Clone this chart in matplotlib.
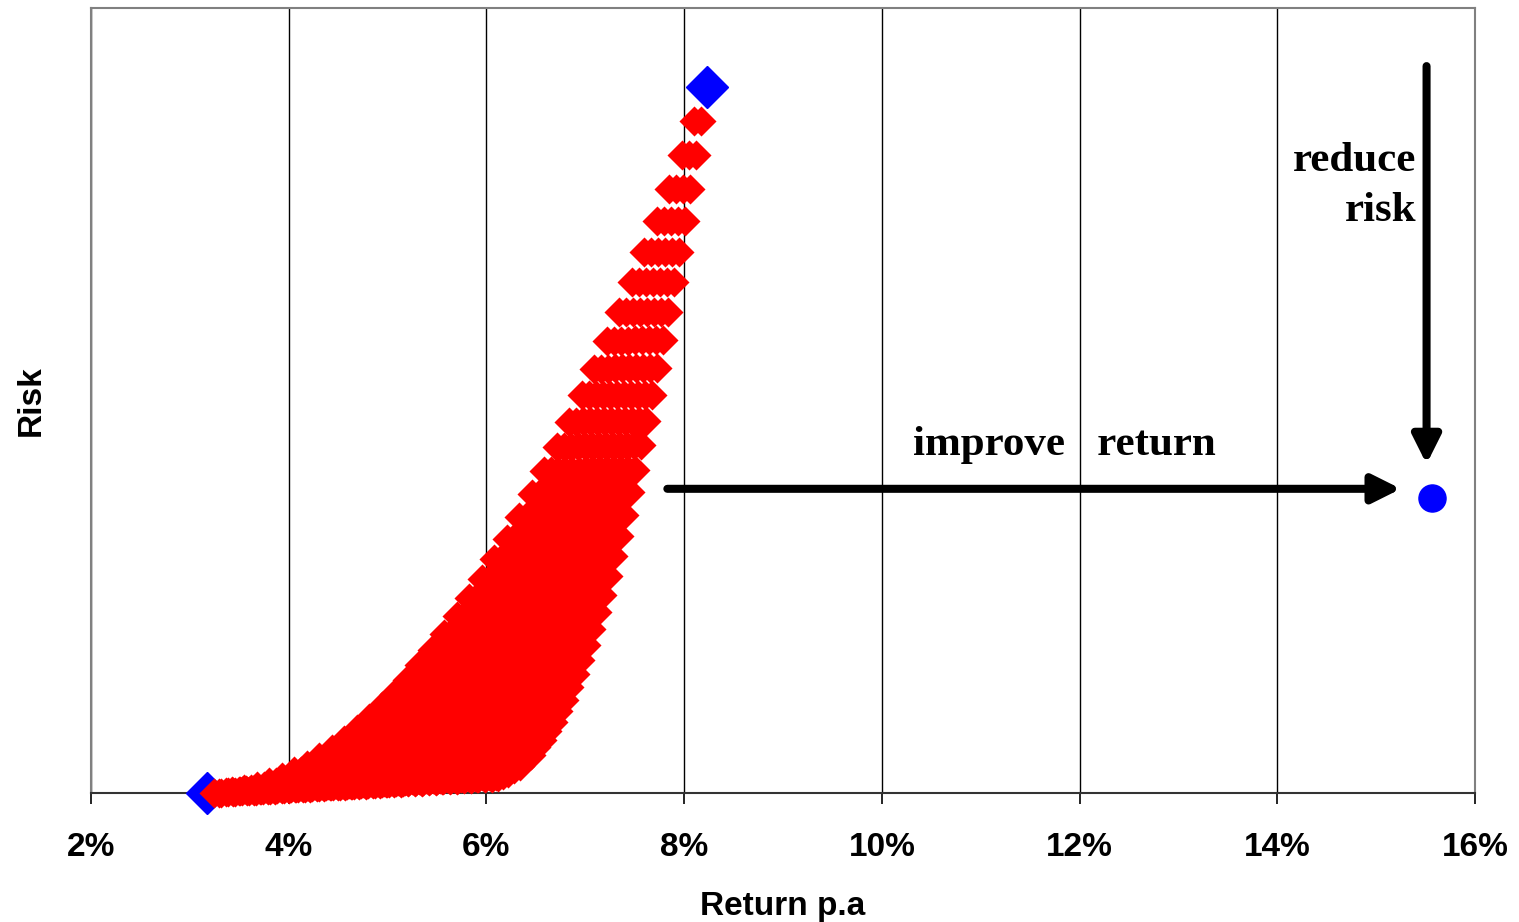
import numpy as np
import matplotlib
matplotlib.use("Agg")
import matplotlib.pyplot as plt

# rows of the red cloud, top (k=1) to bottom (k=40)
row_ret_lo = [8.104, 7.977, 7.851, 7.724, 7.598, 7.471, 7.345, 7.218, 7.092, 6.965,
              6.839, 6.712, 6.586, 6.459, 6.333, 6.206, 6.080, 5.953, 5.827, 5.700,
              5.574, 5.447, 5.321, 5.194, 5.068, 4.941, 4.815, 4.688, 4.562, 4.435,
              4.309, 4.182, 4.056, 3.929, 3.803, 3.676, 3.550, 3.423, 3.297, 3.241]
row_ret_hi = [8.174, 8.119, 8.063, 8.007, 7.951, 7.896, 7.840, 7.784, 7.728, 7.673,
              7.617, 7.561, 7.505, 7.450, 7.394, 7.338, 7.282, 7.227, 7.171, 7.115,
              7.059, 7.004, 6.948, 6.892, 6.836, 6.781, 6.725, 6.669, 6.613, 6.558,
              6.502, 6.446, 6.390, 6.335, 6.279, 6.223, 6.167, 6.112, 6.056, 6.000]
row_risk_lo = [17.11, 16.25, 15.40, 14.58, 13.78, 13.01, 12.25, 11.52, 10.81, 10.13,
               9.46, 8.82, 8.20, 7.61, 7.03, 6.48, 5.95, 5.45, 4.96, 4.50,
               4.06, 3.65, 3.25, 2.88, 2.53, 2.21, 1.90, 1.62, 1.36, 1.13,
               0.91, 0.72, 0.55, 0.41, 0.28, 0.18, 0.10, 0.05, 0.01, 0.00]
row_risk_hi = [17.11, 16.25, 15.40, 14.58, 13.79, 13.01, 12.26, 11.54, 10.83, 10.15,
               9.49, 8.86, 8.24, 7.66, 7.09, 6.55, 6.03, 5.53, 5.05, 4.60,
               4.17, 3.77, 3.39, 3.03, 2.69, 2.38, 2.09, 1.82, 1.58, 1.36,
               1.16, 0.98, 0.83, 0.70, 0.60, 0.51, 0.45, 0.42, 0.39, 0.41]
row_n = list(range(2, 41)) + [40]

# the two single assets and the target
asset_ret = [3.17, 8.23]
asset_risk = [0.0, 18.0]
target_ret, target_risk = 15.56, 7.52

xticks = [2, 4, 6, 8, 10, 12, 14, 16]

pts_x, pts_y = [], []
for lo, hi, rlo, rhi, n in zip(row_ret_lo, row_ret_hi, row_risk_lo, row_risk_hi, row_n):
    pts_x.extend(np.linspace(lo, hi, n))
    pts_y.extend(np.linspace(rlo, rhi, n))

fig = plt.figure(figsize=(15.19, 9.22), dpi=100)
ax = fig.add_axes([91 / 1519, 129 / 922, 1384 / 1519, 785 / 922])

ax.set_xlim(2, 16)
ax.set_ylim(0, 20)
ax.set_xticks(xticks)
ax.set_xticklabels([f"{t}%" for t in xticks])
ax.set_yticks([])
ax.grid(axis="x", color="black", lw=1)
ax.set_axisbelow(True)

for side in ["top", "left", "right"]:
    ax.spines[side].set_color("#808080")
    ax.spines[side].set_linewidth(1.5)
ax.spines["bottom"].set_color("#333333")
ax.spines["bottom"].set_linewidth(1.5)
ax.tick_params(axis="x", length=8, width=1.2, pad=20, labelsize=24)
for lab in ax.get_xticklabels():
    lab.set_fontweight("bold")
    lab.set_family("Liberation Sans")

ax.plot(asset_ret, asset_risk, "D", color="#0000FF", mec="#0000FF", ms=21, ls="none",
        clip_on=False, zorder=3)
ax.scatter(pts_x, pts_y, marker="D", s=15.3 ** 2, color="#FF0000", lw=0,
           clip_on=False, zorder=4)
ax.plot([target_ret], [target_risk], "o", color="#0000FF", ms=19.5, clip_on=False, zorder=4)

arrow = dict(arrowstyle="-|>", color="black", lw=5.8, mutation_scale=42, shrinkA=0, shrinkB=0)
ax.annotate("", xy=(15.25, 7.75), xytext=(7.83, 7.75), arrowprops=arrow)
ax.annotate("", xy=(15.51, 8.38), xytext=(15.51, 18.52), arrowprops=arrow)

serif = dict(family="Liberation Serif", fontweight="bold", fontsize=31)
ax.text(10.31, 8.61, "improve   return", ha="left", va="baseline", **serif)
ax.text(15.41, 15.85, "reduce", ha="right", va="baseline", **serif)
ax.text(15.41, 14.57, "risk", ha="right", va="baseline", **serif)

ax.set_xlabel("Return p.a", fontsize=24, fontweight="bold", family="Liberation Sans", labelpad=20)
ax.set_ylabel("Risk", fontsize=24, fontweight="bold", family="Liberation Sans", labelpad=32)

fig.savefig("out.png", dpi=100)
